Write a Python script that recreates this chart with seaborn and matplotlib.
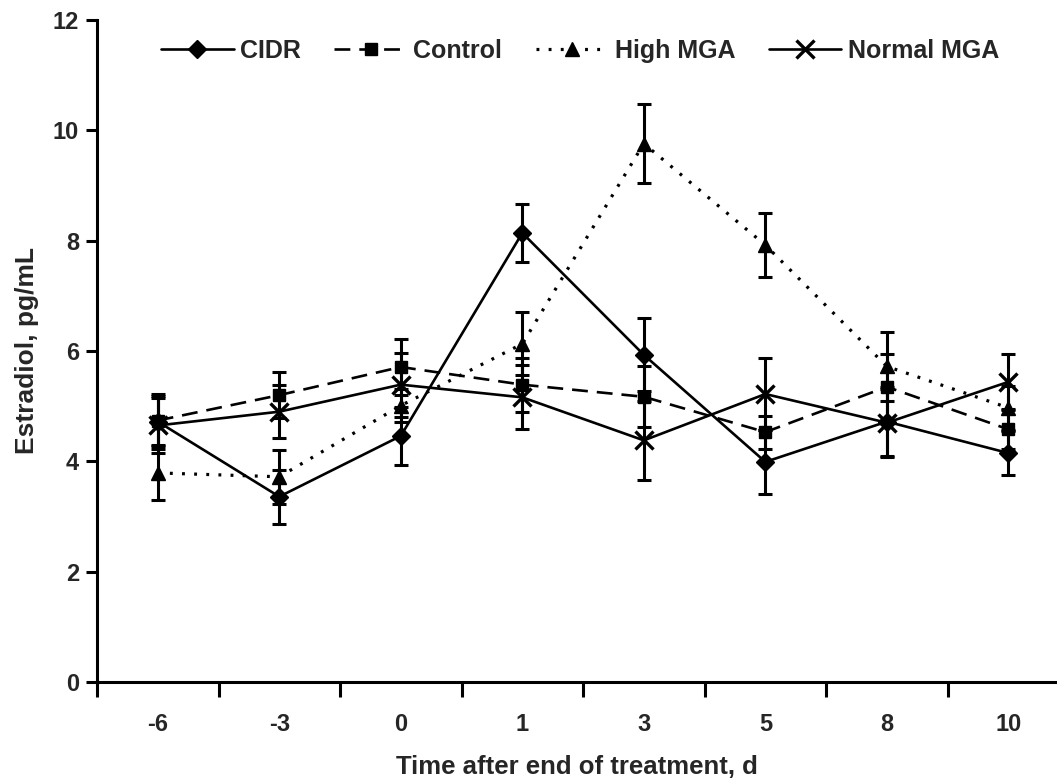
import numpy as np
import pandas as pd
import matplotlib
matplotlib.use("Agg")
import matplotlib.pyplot as plt
import seaborn as sns

# ---- data ----
days = ['-6', '-3', '0', '1', '3', '5', '8', '10']
cidr = [4.72, 3.36, 4.46, 8.14, 5.93, 3.99, 4.72, 4.15]
cidr_se = [0.50, 0.49, 0.52, 0.52, 0.66, 0.58, 0.62, 0.40]
control = [4.74, 5.20, 5.71, 5.39, 5.17, 4.53, 5.35, 4.58]
control_se = [0.45, 0.42, 0.50, 0.49, 0.55, 0.30, 0.60, 0.35]
high_mga = [3.79, 3.72, 5.01, 6.13, 9.76, 7.92, 5.72, 4.97]
high_mga_se = [0.49, 0.49, 0.30, 0.57, 0.72, 0.58, 0.62, 0.40]
normal_mga = [4.65, 4.90, 5.39, 5.16, 4.38, 5.22, 4.70, 5.44]
normal_mga_se = [0.50, 0.48, 0.58, 0.58, 0.72, 0.66, 0.62, 0.50]
groups = ['CIDR', 'Control', 'High MGA', 'Normal MGA']

series = {'CIDR': (cidr, cidr_se), 'Control': (control, control_se),
          'High MGA': (high_mga, high_mga_se), 'Normal MGA': (normal_mga, normal_mga_se)}

rows = []
for g in groups:
    m, se = series[g]
    for i, (d, v, s) in enumerate(zip(days, m, se)):
        rows.append({'pos': i, 'day': d, 'group': g, 'mean': v, 'se': s})
df = pd.DataFrame(rows)

sns.set_style("ticks")
plt.rcParams['font.family'] = ['Liberation Sans', 'DejaVu Sans']
plt.rcParams['font.weight'] = 'bold'

fig = plt.figure(figsize=(10.57, 7.80), dpi=100)
ax = fig.add_axes([97/1057, 98/780, 960/1057, 662/780])

lw = 1.9
styles = {
    'CIDR': dict(marker='D', ms=9.5, mew=1.0, ls='-', lw=lw),
    'Control': dict(marker='s', ms=8.5, mew=1.0, ls=(0, (6, 3.4)), lw=lw),
    'High MGA': dict(marker='^', ms=10.5, mew=1.0, ls=(0, (0.9, 2.9)), lw=2.3),
    'Normal MGA': dict(marker='x', ms=13, mew=2.4, ls='-', lw=lw),
}

# error bars
for g in groups:
    sub = df[df.group == g]
    ax.errorbar(sub['pos'], sub['mean'], yerr=sub['se'], fmt='none',
                ecolor='black', elinewidth=2.2, capsize=4.7, capthick=2.2, zorder=2)

for g in groups:
    sub = df[df.group == g]
    st = styles[g]
    sns.lineplot(data=sub, x='pos', y='mean', color='black', linewidth=st['lw'],
                 marker=st['marker'], markersize=st['ms'], markeredgewidth=st['mew'],
                 markeredgecolor='black', markerfacecolor='black',
                 linestyle=st['ls'], label=g, ax=ax, zorder=3, errorbar=None)

ax.set_xlim(-0.5, 7.4)
ax.set_ylim(0, 12)
ax.set_yticks([0, 2, 4, 6, 8, 10, 12])
ax.set_xticks(range(len(days)))
ax.set_xticklabels(days)
ax.set_xticks(np.arange(-0.5, len(days) - 0.5, 1), minor=True)

ax.tick_params(axis='x', which='major', length=0, pad=22, labelsize=17)
ax.tick_params(axis='x', which='minor', length=11, width=2.2, color='black')
ax.tick_params(axis='y', which='major', length=8, width=2.2, pad=5, labelsize=17, color='black')
for lab in ax.get_xticklabels() + ax.get_yticklabels():
    lab.set_fontweight('bold')

for s in ['top', 'right']:
    ax.spines[s].set_visible(False)
for s in ['left', 'bottom']:
    ax.spines[s].set_linewidth(2.2)
    ax.spines[s].set_color('black')

ax.set_xlabel('Time after end of treatment, d', fontsize=18.5, fontweight='bold', labelpad=14)
ax.set_ylabel('Estradiol, pg/mL', fontsize=19, fontweight='bold', labelpad=10)

handles, labels = ax.get_legend_handles_labels()
leg = ax.legend(handles, labels, loc='upper center', bbox_to_anchor=(0.503, 1.005),
                ncol=4, frameon=False, handlelength=2.9,
                handletextpad=0.25, columnspacing=1.35, prop={'weight': 'bold', 'size': 18})

fig.savefig('out.png', dpi=100)
